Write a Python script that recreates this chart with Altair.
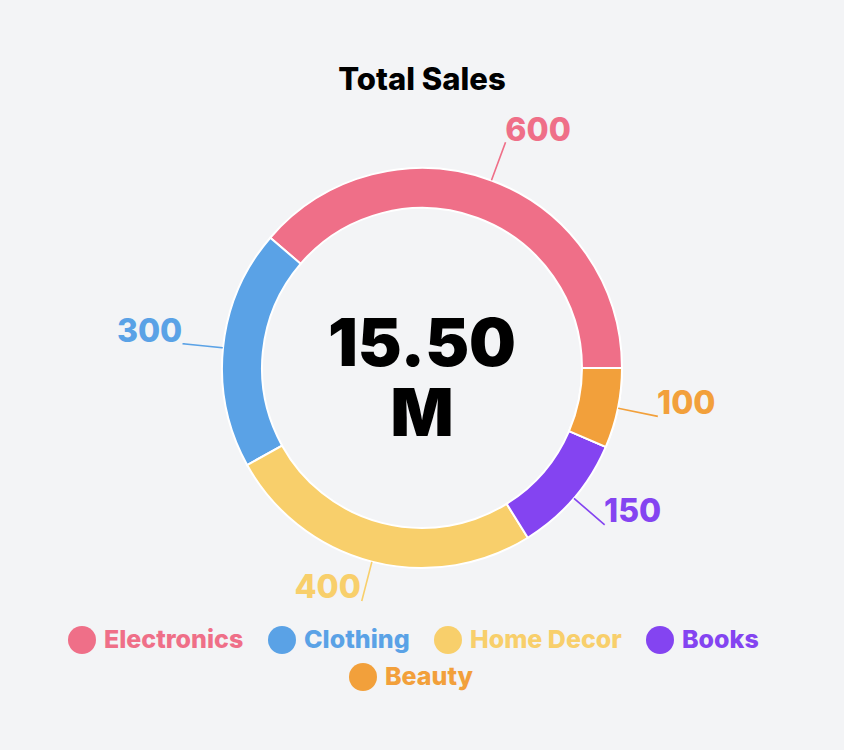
import math
import numpy as np
import pandas as pd
import altair as alt

# ---- data ----
categories = ["Electronics", "Clothing", "Home Decor", "Books", "Beauty"]
values = [600, 300, 400, 150, 100]
colors = ["#EF6F88", "#5AA2E6", "#F8CF6B", "#8444F1", "#F2A03B"]
title_text = "Total Sales"
center_lines = ["15.50", "M"]

FONT = "Inter"
BG = "#F3F4F6"

total = float(sum(values))
df = pd.DataFrame({"category": categories, "value": values})
df["end"] = df["value"].cumsum()
df["start"] = df["end"] - df["value"]
df["mid"] = (df["start"] + df["end"]) / 2
df["mid2"] = df["mid"] + total * 1e-4
df["label"] = df["value"].astype(str)
ang = math.pi / 2 - 2 * math.pi * df["mid"] / total
df["side"] = np.where(np.sin(ang) >= 0, "right", "left")

theta_scale = alt.Scale(domain=[0, total], range=[math.pi / 2, math.pi / 2 - 2 * math.pi])
color_scale = alt.Scale(domain=categories, range=colors)

label_expr = " : ".join(
    f"datum.value === '{c}' ? '{col}'" for c, col in zip(categories, colors)
) + " : '#000000'"

legend_common = dict(
    orient="none",
    direction="horizontal",
    title=None,
    symbolType="circle",
    symbolSize=784,
    symbolStrokeWidth=0,
    labelFont=FONT,
    labelFontSize=25,
    labelFontWeight=800,
    labelOffset=8,
    columnPadding=24,
    labelLimit=400,
)

legend1 = alt.Legend(
    values=categories[:4],
    legendX=68,
    legendY=526,
    labelColor=alt.ExprRef(expr=label_expr),
    **legend_common,
)
legend2 = alt.Legend(
    values=categories[4:],
    legendX=349,
    legendY=563,
    labelColor=colors[4],
    **legend_common,
)

base = alt.Chart(df)

slices = base.mark_arc(outerRadius=200, innerRadius=160, stroke="white", strokeWidth=2).encode(
    theta=alt.Theta("start:Q", scale=theta_scale, stack=False),
    theta2="end:Q",
    color=alt.Color("category:N", scale=color_scale, legend=legend1),
)

beauty = base.transform_filter(
    alt.FieldOneOfPredicate(field="category", oneOf=categories[4:])
).mark_arc(outerRadius=200, innerRadius=160, stroke="white", strokeWidth=2).encode(
    theta=alt.Theta("start:Q", scale=theta_scale, stack=False),
    theta2="end:Q",
    color=alt.Color("category:N", scale=alt.Scale(domain=categories[4:], range=colors[4:]), legend=legend2),
)

lines = base.mark_arc(outerRadius=240, innerRadius=201, filled=False, strokeWidth=1.5).encode(
    theta=alt.Theta("mid:Q", scale=theta_scale, stack=False),
    theta2="mid2:Q",
    color=alt.Color("category:N", scale=color_scale, legend=None),
)

text_style = dict(radius=240, baseline="alphabetic", font=FONT, fontSize=32, fontWeight=800, dy=-2)

labels_right = base.transform_filter(alt.datum.side == "right").mark_text(
    align="left", dx=0, **text_style
).encode(
    theta=alt.Theta("mid:Q", scale=theta_scale, stack=False),
    text="label:N",
    color=alt.Color("category:N", scale=color_scale, legend=None),
)

labels_left = base.transform_filter(alt.datum.side == "left").mark_text(
    align="right", dx=-1, **text_style
).encode(
    theta=alt.Theta("mid:Q", scale=theta_scale, stack=False),
    text="label:N",
    color=alt.Color("category:N", scale=color_scale, legend=None),
)

center_df = pd.DataFrame({"text": ["\n".join(center_lines)]})
center = alt.Chart(center_df).mark_text(
    lineBreak="\n", font=FONT, fontSize=66, fontWeight=900, color="#000000",
    baseline="middle", lineHeight=70, dy=-22,
).encode(text="text:N")

chart = alt.layer(slices, beauty, lines, labels_right, labels_left, center).resolve_scale(
    color="independent"
).properties(
    width=844,
    height=536,
    padding={"top": 100, "bottom": 114, "left": 0, "right": 0},
    autosize="none",
    background=BG,
    title=alt.TitleParams(
        title_text, font=FONT, fontSize=31, fontWeight=800, color="#000000",
        anchor="middle", offset=3,
    ),
).configure_view(strokeWidth=0)

chart.save("out.html", embed_options={"renderer": "svg", "actions": False})
